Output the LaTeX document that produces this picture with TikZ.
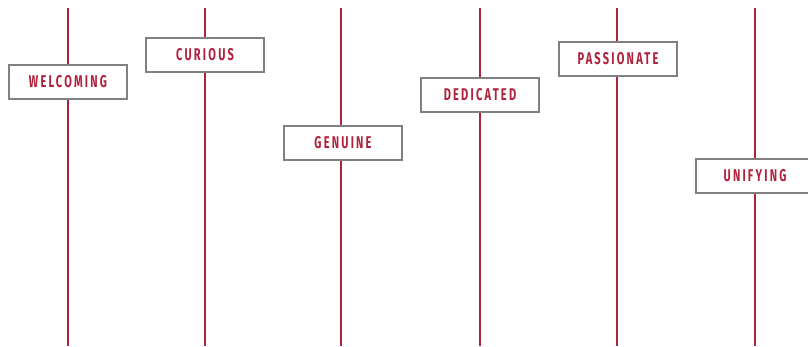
\documentclass[tikz,border=0pt]{standalone}
\usepackage{fontspec}
\newfontfamily\labelfont[FakeStretch=0.65,LetterSpace=13]{Fira Sans}
\definecolor{linered}{HTML}{B0233C}
\definecolor{boxgrey}{HTML}{808080}
\begin{document}
\begin{tikzpicture}[x=1pt,y=-1pt,
  vline/.style={draw=linered,line width=1.5pt},
  tag/.style={draw=boxgrey,line width=1.5pt,fill=white,minimum width=118pt,minimum height=34pt,inner sep=0pt,
    font=\labelfont\bfseries\fontsize{17}{17}\selectfont,text=linered}]
\useasboundingbox (0,0) rectangle (808,346);
\clip (0,0) rectangle (808,346);
\foreach \n/\x in {a/68,b/205,c/341,d/480,e/617,f/755}{
  \coordinate (\n top) at (\x,8);
  \coordinate (\n bot) at (\x,346);
  \draw[vline] (\n top) -- (\n bot);
}
\node[tag] (welcoming) at (68,82) {WELCOMING};
\node[tag] (curious) at (205,55) {CURIOUS};
\node[tag] (genuine) at (343,143) {GENUINE};
\node[tag] (dedicated) at (480,95) {DEDICATED};
\node[tag] (passionate) at (618,59) {PASSIONATE};
\node[tag] (unifying) at (755,176) {UNIFYING};
\end{tikzpicture}
\end{document}
